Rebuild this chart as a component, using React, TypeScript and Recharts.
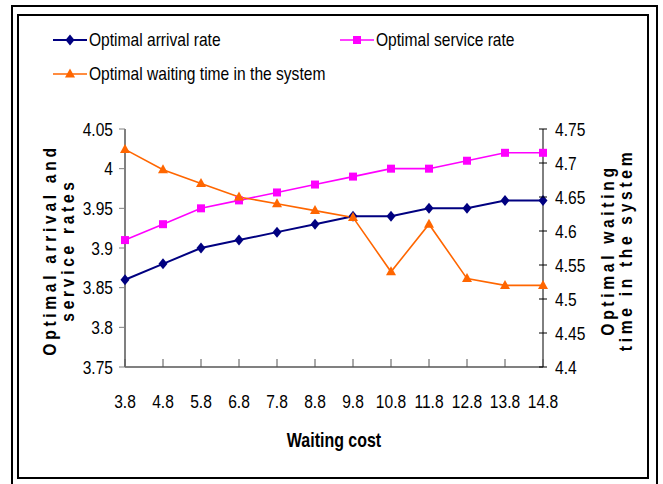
import React from "react";
import { LineChart, Line, XAxis, YAxis } from "recharts";

// ---- data ----
const waitingCost = ["3.8", "4.8", "5.8", "6.8", "7.8", "8.8", "9.8", "10.8", "11.8", "12.8", "13.8", "14.8"];
const arrivalRate = [3.86, 3.88, 3.9, 3.91, 3.92, 3.93, 3.94, 3.94, 3.95, 3.95, 3.96, 3.96];
const serviceRate = [3.91, 3.93, 3.95, 3.96, 3.97, 3.98, 3.99, 4.0, 4.0, 4.01, 4.02, 4.02];
const waitingTime = [4.72, 4.69, 4.67, 4.65, 4.64, 4.63, 4.62, 4.54, 4.61, 4.53, 4.52, 4.52];
const leftTicks = [3.75, 3.8, 3.85, 3.9, 3.95, 4, 4.05];
const rightTicks = [4.4, 4.45, 4.5, 4.55, 4.6, 4.65, 4.7, 4.75];

const data = waitingCost.map((c, i) => ({
  cost: c,
  arrival: arrivalRate[i],
  service: serviceRate[i],
  waiting: waitingTime[i],
}));

// no Arial Narrow here, so squeeze Liberation Sans horizontally
const FONT = "'Liberation Sans', Arial, sans-serif";
const SQUEEZE = 0.82;
const NAVY = "#000080";
const MAGENTA = "#FF00FF";
const ORANGE = "#FF6600";

// marker shapes
const Diamond = ({ cx, cy, color }) => (
  <path d={`M${cx},${cy - 5.5} L${cx + 4.5},${cy} L${cx},${cy + 5.5} L${cx - 4.5},${cy} Z`} fill={color} />
);
const Square = ({ cx, cy, color }) => <rect x={cx - 4} y={cy - 4} width={8} height={8} fill={color} />;
const Triangle = ({ cx, cy, color }) => (
  <path d={`M${cx},${cy - 5.5} L${cx + 5},${cy + 3.5} L${cx - 5},${cy + 3.5} Z`} fill={color} />
);

const series = [
  { key: "arrival", name: "Optimal arrival rate", color: NAVY, width: 2, Shape: Diamond, axis: "left" },
  { key: "service", name: "Optimal service rate", color: MAGENTA, width: 1.6, Shape: Square, axis: "left" },
  { key: "waiting", name: "Optimal waiting time in the system", color: ORANGE, width: 1.6, Shape: Triangle, axis: "right" },
];

const legendPos = [
  { left: 53, top: 40 },
  { left: 340, top: 40 },
  { left: 53, top: 74 },
];

const Narrow = ({ x, y, anchor, children }) => (
  <text
    transform={`translate(${x},${y}) scale(${SQUEEZE},1)`}
    textAnchor={anchor}
    dy="0.355em"
    fontSize={19}
    fontFamily={FONT}
    fill="#000"
  >
    {children}
  </text>
);

const XTick = ({ x, y, payload }) => (
  <g>
    <line x1={x} x2={x} y1={y} y2={y - 8} stroke="#555" strokeWidth={1} />
    <Narrow x={x} y={y + 34} anchor="middle">{payload.value}</Narrow>
  </g>
);

const LeftTick = ({ x, y, payload }) => (
  <Narrow x={x} y={y} anchor="end">{payload.value}</Narrow>
);

const RightTick = ({ x, y, payload }) => (
  <g>
    <line x1={x - 4} x2={x + 4} y1={y} y2={y} stroke="#000" strokeWidth={1} />
    <Narrow x={x + 12} y={y} anchor="start">{payload.value}</Narrow>
  </g>
);

const titleStyle = {
  position: "absolute",
  fontFamily: FONT,
  fontWeight: "bold",
  fontSize: 19,
  color: "#000",
  whiteSpace: "nowrap",
  textAlign: "center",
} as React.CSSProperties;

export default function App() {
  return (
    <div style={{ position: "absolute", left: 0, top: 0, width: 663, height: 484, overflow: "hidden", background: "#fff" }}>
      {/* double frame */}
      <div style={{ position: "absolute", left: 11, top: 5, width: 647, height: 500, border: "2px solid #000", boxSizing: "border-box" }} />
      <div style={{ position: "absolute", left: 17, top: 14, width: 632, height: 465, border: "2px solid #000", boxSizing: "border-box" }} />

      {/* legend */}
      {series.map((s, i) => (
        <div key={s.key} style={{ position: "absolute", left: legendPos[i].left, top: legendPos[i].top - 12, height: 24, display: "flex", alignItems: "center" }}>
          <svg width={34} height={24}>
            <line x1={0} x2={34} y1={12} y2={12} stroke={s.color} strokeWidth={s.width} />
            <s.Shape cx={17} cy={12} color={s.color} />
          </svg>
          <span
            style={{
              marginLeft: 2,
              fontFamily: FONT,
              fontSize: 19,
              color: "#000",
              whiteSpace: "nowrap",
              display: "inline-block",
              transform: `scaleX(${SQUEEZE})`,
              transformOrigin: "left center",
            }}
          >
            {s.name}
          </span>
        </div>
      ))}

      <LineChart
        width={663}
        height={484}
        data={data}
        margin={{ top: 129, right: 70, bottom: 87, left: 75 }}
        style={{ position: "absolute", left: 0, top: 0 }}
      >
        <XAxis
          dataKey="cost"
          height={30}
          axisLine={{ stroke: "#808080", strokeWidth: 2 }}
          tickLine={false}
          tickSize={0}
          tickMargin={0}
          interval={0}
          tick={XTick}
        />
        <YAxis
          yAxisId="left"
          width={50}
          domain={[3.75, 4.05]}
          ticks={leftTicks}
          interval={0}
          axisLine={{ stroke: "#808080", strokeWidth: 2 }}
          tickLine={{ stroke: "#808080" }}
          tickSize={6}
          tickMargin={6}
          tick={LeftTick}
        />
        <YAxis
          yAxisId="right"
          orientation="right"
          width={50}
          domain={[4.4, 4.75]}
          ticks={rightTicks}
          interval={0}
          axisLine={{ stroke: "#000", strokeWidth: 1 }}
          tickLine={false}
          tickSize={0}
          tickMargin={0}
          tick={RightTick}
        />
        {series.map((s) => (
          <Line
            key={s.key}
            yAxisId={s.axis}
            dataKey={s.key}
            name={s.name}
            stroke={s.color}
            strokeWidth={s.width}
            isAnimationActive={false}
            dot={(p) => <s.Shape key={`${s.key}-${p.index}`} cx={p.cx} cy={p.cy} color={s.color} />}
            activeDot={false}
          />
        ))}
      </LineChart>

      {/* axis titles */}
      <div style={{ ...titleStyle, left: 334 - 100, top: 427, width: 200, fontSize: 21, lineHeight: "26px", transform: "scaleX(0.76)" }}>
        Waiting cost
      </div>
      <div
        style={{
          ...titleStyle,
          left: 59 - 130,
          top: 250 - 18,
          width: 260,
          lineHeight: "18px",
          letterSpacing: 4.5,
          transform: `rotate(-90deg) scaleX(${SQUEEZE})`,
        }}
      >
        Optimal arrival and
        <br />
        service rates
      </div>
      <div
        style={{
          ...titleStyle,
          left: 617 - 130,
          top: 250 - 18,
          width: 260,
          lineHeight: "18px",
          letterSpacing: 4.5,
          transform: `rotate(-90deg) scaleX(${SQUEEZE})`,
        }}
      >
        Optimal waiting
        <br />
        time in the system
      </div>
    </div>
  );
}
